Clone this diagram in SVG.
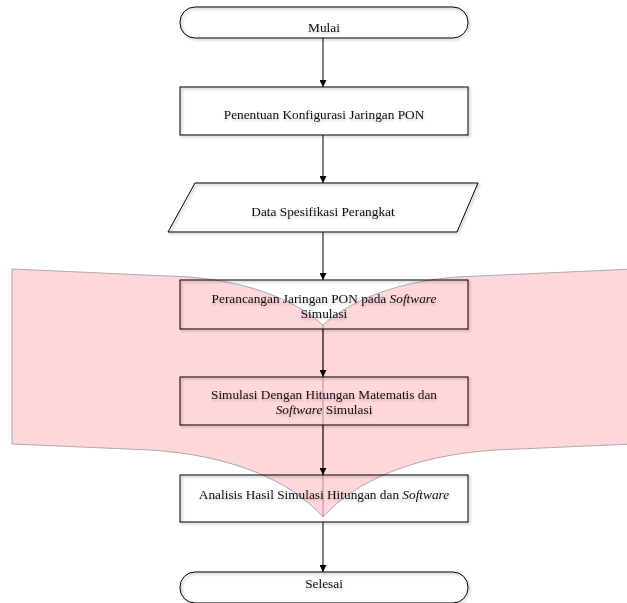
<svg xmlns="http://www.w3.org/2000/svg" width="627" height="603" viewBox="0 0 627 603">
<defs>
<style>
.node{fill:none;stroke:#000;stroke-width:1;filter:url(#sh)}
text{font-family:'Liberation Serif','Times New Roman',serif;font-size:13.3px;fill:#111;text-anchor:middle;filter:url(#tsh)}
.i{font-style:italic}
.conn{stroke:#000;stroke-width:1;fill:none;marker-end:url(#arr)}
</style>
<filter id="sh" x="-5%" y="-5%" width="110%" height="120%">
<feDropShadow dx="1.5" dy="1.5" stdDeviation="0.8" flood-color="#000" flood-opacity="0.35"/>
</filter>
<filter id="tsh" x="-5%" y="-20%" width="110%" height="160%">
<feDropShadow dx="0.5" dy="2" stdDeviation="1" flood-color="#000" flood-opacity="0.2"/>
</filter>
<marker id="arr" viewBox="0 0 10 10" refX="10" refY="5" markerWidth="7" markerHeight="7" orient="auto" markerUnits="userSpaceOnUse">
<path d="M0,0 L10,5 L0,10 Z" fill="#000"/>
</marker>
</defs>
<rect width="627" height="603" fill="#fff"/>
<g id="pink">
<path d="M12,269 L190,277 C250,282 295,300 323,325 C351,300 396,282 456,277 L634,269 L634,444 L496,450 C416,455 356,480 323,517 C290,480 230,455 150,450 L12,444 Z" fill="#FFD6D9" stroke="#9a9a9a" stroke-width="0.8"/>
<line x1="323" y1="325" x2="323" y2="517" stroke="#8a8a8a" stroke-width="0.8"/>
</g>
<g id="connectors">
<line class="conn" x1="323" y1="38" x2="323" y2="87"/>
<line class="conn" x1="323" y1="135" x2="323" y2="183"/>
<line class="conn" x1="323" y1="232" x2="323" y2="280"/>
<line class="conn" x1="323" y1="329" x2="323" y2="377"/>
<line class="conn" x1="323" y1="425" x2="323" y2="475"/>
<line class="conn" x1="323" y1="522" x2="323" y2="572"/>
</g>
<g id="mulai">
<rect class="node" x="180" y="7" width="288" height="31" rx="15" ry="15"/>
<text x="324" y="32">Mulai</text>
</g>
<g id="penentuan">
<rect class="node" x="180" y="87" width="288" height="48"/>
<text x="324" y="119">Penentuan Konfigurasi Jaringan PON</text>
</g>
<g id="data">
<polygon class="node" points="195,183 478,183 457,232 168,232"/>
<text x="323" y="216">Data Spesifikasi Perangkat</text>
</g>
<g id="perancangan">
<rect class="node" x="180" y="280" width="288" height="49"/>
<text x="324" y="303">Perancangan Jaringan PON pada <tspan class="i">Software</tspan></text>
<text x="324" y="318">Simulasi</text>
</g>
<g id="simulasi">
<rect class="node" x="180" y="377" width="288" height="48"/>
<text x="324" y="399">Simulasi Dengan Hitungan Matematis dan</text>
<text x="324" y="414"><tspan class="i">Software</tspan> Simulasi</text>
</g>
<g id="analisis">
<rect class="node" x="180" y="475" width="288" height="47"/>
<text x="324" y="499">Analisis Hasil Simulasi Hitungan dan <tspan class="i">Software</tspan></text>
</g>
<g id="selesai">
<rect class="node" x="180" y="572" width="288" height="31" rx="15" ry="15"/>
<text x="324" y="588">Selesai</text>
</g>
</svg>
